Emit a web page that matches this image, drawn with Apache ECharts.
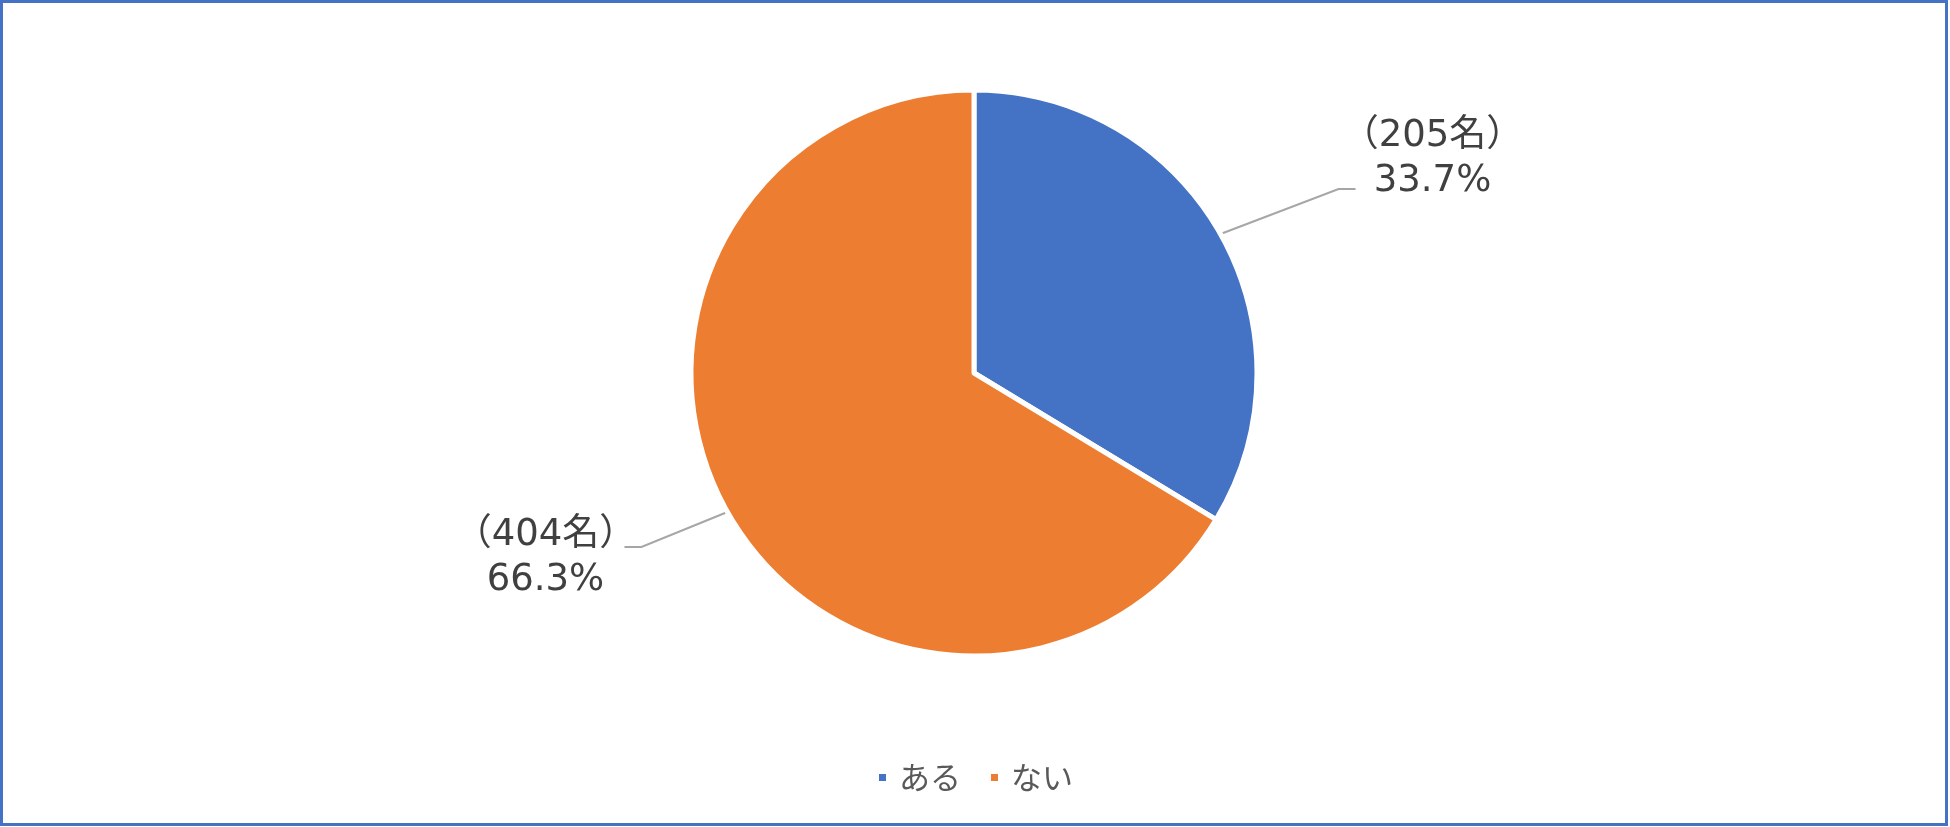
<!DOCTYPE html>
<html>
<head>
<meta charset="utf-8">
<script src="https://cdn.jsdelivr.net/npm/echarts@6/dist/echarts.min.js"></script>
<style>
  html, body { margin: 0; padding: 0; background: #ffffff; }
  #chart { position: absolute; left: 0; top: 0; width: 1950px; height: 827px; }
  #frame { position: absolute; left: 0; top: 0; width: 1948px; height: 826px; box-sizing: border-box; border: 3px solid #4472C4; pointer-events: none; }
</style>
</head>
<body>
<div id="chart"></div>
<div id="frame"></div>
<script>
// ---- data ----
const categories = ['ある', 'ない'];
const counts = [205, 404];
const colors = ['#4472C4', '#ED7D31'];

const FONT = '"Noto Sans CJK JP", "Noto Sans", sans-serif';
const LABEL_FONT = '"DejaVu Sans", "Noto Sans CJK JP", sans-serif';

const chart = echarts.init(document.getElementById('chart'), null, { renderer: 'canvas' });

const seriesData = categories.map((name, i) => ({
  name: name,
  value: counts[i],
  itemStyle: { color: colors[i] }
}));

const option = {
  animation: false,
  backgroundColor: '#ffffff',
  legend: {
    data: categories,
    left: 'center',
    top: 757,
    icon: 'rect',
    itemWidth: 9,
    itemHeight: 9,
    itemGap: 28,
    textStyle: { fontFamily: FONT, fontSize: 31, color: '#595959', padding: [0, 0, 0, 7] }
  },
  series: [{
    type: 'pie',
    center: [974, 373],
    radius: 283,
    startAngle: 90,
    clockwise: true,
    percentPrecision: 1,
    avoidLabelOverlap: false,
    data: seriesData,
    itemStyle: { borderColor: '#ffffff', borderWidth: 5 },
    label: {
      show: true,
      position: 'outside',
      formatter: function (p) { return '（' + p.value + '名）\n' + p.percent.toFixed(1) + '%'; },
      fontFamily: LABEL_FONT,
      fontSize: 37,
      lineHeight: 45,
      color: '#404040'
    },
    labelLine: {
      show: true,
      length: 60,
      length2: 17,
      lineStyle: { color: '#A6A6A6', width: 2 }
    },
    labelLayout: function (p) {
      const pts = p.labelLinePoints;
      if (!pts) return {};
      const s = pts[0];
      if (p.dataIndex === 0) {
        const m = [s[0] + 118, s[1] - 45];
        const e = [m[0] + 17, m[1]];
        return { x: e[0] + 77, y: e[1] - 30, align: 'center', verticalAlign: 'middle', labelLinePoints: [s, m, e] };
      } else {
        const m = [s[0] - 86, s[1] + 35];
        const e = [m[0] - 17, m[1]];
        return { x: e[0] - 79, y: e[1] + 11, align: 'center', verticalAlign: 'middle', labelLinePoints: [s, m, e] };
      }
    }
  }]
};

chart.setOption(option);
</script>
</body>
</html>
